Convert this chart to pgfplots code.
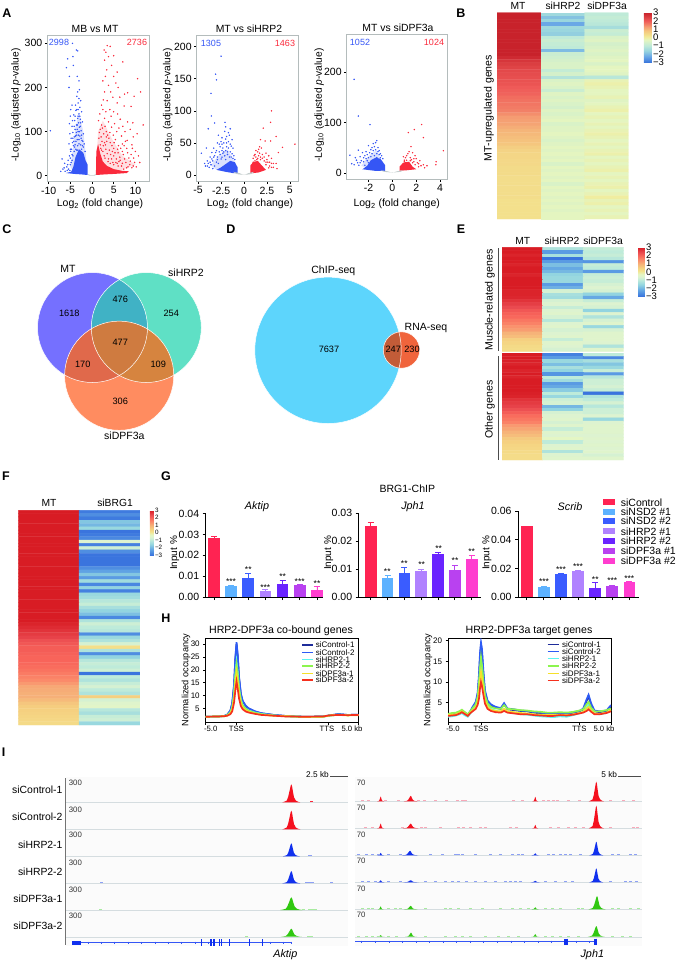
\documentclass[border=0pt]{standalone}
\usepackage{fontspec}
\setmainfont{Liberation Sans}
\usepackage{pgfplots}
\usepackage{pgfplotstable}
\pgfplotsset{compat=1.18}
\usetikzlibrary{calc}
\definecolor{vb}{HTML}{3556F5}\definecolor{vr}{HTML}{FA2A3C}\definecolor{vg}{HTML}{C3CCCC}
\definecolor{vbox}{HTML}{B4BCBC}
\definecolor{g1}{HTML}{FF2352}\definecolor{g2}{HTML}{5DB2FF}\definecolor{g3}{HTML}{3A5CFF}\definecolor{g4}{HTML}{B082FF}\definecolor{g5}{HTML}{6A24FF}\definecolor{g6}{HTML}{B941F0}\definecolor{g7}{HTML}{FF3DCF}
\definecolor{h1}{HTML}{1E2C9A}\definecolor{h2}{HTML}{2D5BF5}\definecolor{h3}{HTML}{5CF5F0}\definecolor{h4}{HTML}{8CF54E}\definecolor{h5}{HTML}{F5E02A}\definecolor{h6}{HTML}{F5301E}
\definecolor{tr}{HTML}{F5101E}\definecolor{tb}{HTML}{1030EE}\definecolor{tg}{HTML}{30C810}
\definecolor{lr}{HTML}{F8A8B8}\definecolor{lb}{HTML}{8DA0F5}\definecolor{lg}{HTML}{A8EBA0}
\definecolor{sep}{HTML}{D5DDE0}
\tikzset{f/.style={font=\fontsize{#1}{#1}\selectfont}}
\newcommand\T[4][]{\node[inner sep=0pt,#1] at (#2pt,-#3pt) {#4};}
\pgfplotsset{
 colormap={hmB}{rgb255(0)=(60,120,220) rgb255(7)=(106,168,230) rgb255(14)=(154,214,222) rgb255(20)=(191,234,216) rgb255(27)=(228,245,192) rgb255(30)=(240,237,160) rgb255(33)=(243,224,140) rgb255(38)=(245,198,126) rgb255(43)=(245,156,114) rgb255(50)=(239,90,88) rgb255(60)=(200,34,43)},
 colormap={hmE}{rgb255(0)=(58,116,222) rgb255(7)=(95,162,228) rgb255(14)=(146,212,224) rgb255(20)=(190,235,218) rgb255(24)=(221,243,208) rgb255(27)=(228,246,196) rgb255(31)=(244,228,142) rgb255(35)=(245,208,128) rgb255(40)=(246,176,120) rgb255(45)=(251,138,106) rgb255(50)=(248,100,90) rgb255(54)=(234,74,80) rgb255(60)=(216,28,36)},
 px/.style n args={4}{at={(#1pt,-#2pt)},anchor=north west,width=#3pt,height=#4pt,scale only axis},
 vol/.style={axis line style={draw=vbox,line width=1pt},tick align=outside,xtick pos=bottom,ytick pos=left,major tick length=2.5pt,tick style={black,line width=.5pt},tick label style={f=10.5},xticklabel style={yshift=1pt},yticklabel style={xshift=1pt}},
 heat/.style={hide axis,enlargelimits=false,y dir=reverse,point meta min=-3,point meta max=3},
 cbar/.style n args={3}{colorbar,colorbar style={at={(parent axis.north east)},anchor=north west,xshift=#1pt,width=#2pt,height=#3pt,ytick={-3,-2,-1,0,1,2,3},yticklabels={−3,−2,−1,0,1,2,3},major tick length=0pt,axis line style={draw=none},tick style={draw=none}}},
 bars/.style={axis x line=bottom,axis y line=left,axis line style={-,line width=.9pt},tick style={black,line width=.9pt},tick align=outside,major tick length=3pt,xtick={0,1,2,3,4,5,6},xticklabels={},tick label style={f=10.5},ymin=0,scaled y ticks=false},
 occ/.style={axis line style={line width=.9pt},tick style={black,line width=.6pt},tick align=outside,xtick pos=bottom,ytick pos=left,major tick length=2.5pt,tick label style={f=8},xticklabels={}},
 hm/.style={matrix plot*,mesh/cols=#1,mesh/ordering=x varies,point meta=explicit},
}
\newcommand\hmp[2]{\addplot[hm=#1] table[row sep=\\,header=false,x expr={mod(\coordindex,#1)},y expr={floor((\coordindex+0.5)/#1)},meta index=0]{#2};}
\newcommand\gbar[4]{\addplot[ybar,bar width=11.7pt,bar shift=0pt,fill=#1,draw=none,forget plot,error bars/.cd,y dir=plus,y explicit,error bar style={#1,line width=.9pt},error mark options={rotate=90,mark size=3pt,#1,line width=.9pt}] coordinates {(#2,#3) +- (0,#4)};}
\pgfplotstableread{
x y
-1 0
-.75 .04
-.5 .1
-.35 .3
-.2 .62
-.08 .9
0 1
.08 .9
.18 .6
.3 .28
.5 .1
.75 .03
1 0
}\peakshape
\newcommand\peak[5]{\addplot[fill=#1,draw=none,forget plot] table[x expr={#2+#5*\thisrow{x}},y expr={#3-#4*\thisrow{y}}]{\peakshape};}
\newcommand\blip[3]{\addplot[only marks,mark=-,mark size=1.5pt,color=#1,mark options={line width=1pt},forget plot] table[row sep=\\,header=false,x index=0,y expr={#2}]{#3};}
\pgfplotstableread{
x c1 c2 h1 h2 d1 d2
-5 1.9 1.9 1.9 1.9 1.9 1.9
-3 2 2 2 2 2 2
-2 2.2 2.2 2.1 2.1 2.1 2.1
-1.5 2.7 2.7 2.5 2.5 2.4 2.3
-1 4.2 4.3 3.6 3.5 3.2 2.9
-.7 7 7.2 5.6 5.4 4.8 4
-.4 14 14.4 10.8 10.4 9 7.4
-.2 24 24.5 18 17.5 15 12
0 30 30.7 23 22 19 15.5
.2 25 25.5 19 18.5 15.5 12.5
.4 17 17.5 13 12.8 11 9
.7 10.5 10.8 8.5 8.2 7.2 6
1 7.8 8 6.4 6.2 5.4 4.8
1.5 6 6.1 5 4.9 4.4 3.9
2 5 5.1 4.3 4.2 3.8 3.5
3 3.9 4 3.5 3.4 3.1 3
4 3.2 3.3 3 2.9 2.7 2.6
6 2.6 2.6 2.4 2.4 2.3 2.3
8 2.2 2.2 2.1 2.1 2.1 2
11 1.9 1.9 1.8 1.8 1.9 1.9
14 2 2 1.9 1.9 1.9 2
15 2.4 2.4 2.3 2.3 2.4 2.4
16.5 2.9 2.9 2.7 2.7 2.6 2.6
18 2.6 2.6 2.5 2.5 2.4 2.5
19.8 2.7 2.7 2.6 2.6 2.5 2.6
}\occA
\pgfplotstableread{
x c1 c2 h1 h2 d1 d2
-5 1.9 2.0 1.6 2.3 2.0 1.8
-4.4 2.1 2.2 1.7 2.5 2.1 1.9
-3.8 2.2 2.3 1.9 2.6 2.2 2.0
-3.2 2.6 2.8 2.2 3.0 2.6 2.4
-2.9 3.0 3.1 2.5 3.3 2.9 2.7
-2.5 2.5 2.6 2.0 2.8 2.4 2.3
-2 2.0 2.1 1.6 2.2 1.9 1.8
-1.6 2.9 3.0 2.4 3.0 2.6 2.5
-1.2 4.0 4.2 3.4 3.8 3.2 3.0
-.8 4.8 5.2 4.2 4.6 3.8 3.5
-.5 7 7.5 6 6.5 5 4.5
-.3 11 12 9 10 7.5 6
-.15 16 17 12.5 13.5 10.5 8.5
0 19 19.6 15 16 12.5 10
.15 17 18 13.5 14 11 9
.35 12 13 10 10.5 8 7
.6 7.5 8 6.5 6.8 5.5 4.8
1 5.2 5.5 4.5 4.8 4 3.5
1.5 4.3 4.6 3.6 4 3.3 3
2.2 3.8 4 3 3.6 3 2.7
3 3.5 3.7 2.8 3.5 2.9 2.6
3.5 4.6 4.9 3.4 4.4 3.5 3.0
4 3.4 3.6 2.7 3.5 2.9 2.6
5 3.2 3.4 2.5 3.4 2.7 2.4
6 3 3.1 2.2 3.2 2.5 2.2
7 2.9 3 2.1 3.1 2.4 2.2
8 2.6 2.7 1.9 2.9 2.2 2.0
9 2.4 2.6 1.7 2.8 2.1 1.9
10 2.3 2.4 1.6 2.6 2 1.8
11 2.2 2.4 1.5 2.6 2 1.8
12 2.4 2.5 1.7 2.7 2.1 2
13 2.2 2.4 1.6 2.6 2 1.9
14 2.6 2.7 2 2.8 2.2 2.1
14.9 2.9 3 2.4 3.1 2.5 2.4
15.5 3.4 3.6 2.8 3.4 2.8 2.6
16 5.4 5.8 3.8 4.6 3.6 3
16.3 6.6 6.9 4.4 5.2 4 3.4
16.7 4.4 4.8 3.4 3.8 3.1 2.8
17.2 2.9 3.1 2.3 2.9 2.4 2.2
18 2.7 2.9 2.2 2.9 2.3 2.2
19 3 3.1 2.5 3.2 2.6 2.5
19.7 4.2 4.4 3.2 3.6 3.2 2.9
}\occB
\newcommand\occplots[1]{%
\addplot[h1,line width=1.7pt] table[x=x,y=c1]{#1};
\addplot[h2,line width=1.7pt] table[x=x,y=c2]{#1};
\addplot[h3,line width=1.7pt] table[x=x,y=h1]{#1};
\addplot[h4,line width=1.7pt] table[x=x,y=h2]{#1};
\addplot[h5,line width=1.7pt] table[x=x,y=d1]{#1};
\addplot[h6,line width=1.7pt] table[x=x,y=d2]{#1};}
\begin{document}
\begin{tikzpicture}
\useasboundingbox (0,0) rectangle (677pt,-962pt);
% ---------- A volcanoes
\begin{axis}[vol,px={47.3}{35}{102}{146.7},xmin=-10.3,xmax=13.2,ymin=-13.6,ymax=319,xtick={-10,-5,0,5,10},xticklabels={-10,-5,0,5,10},ytick={0,100,200,300},yticklabels={0,100,200,300}]
\addplot[fill=vb,fill opacity=.18,draw=none] coordinates {(-1.2,25)(-2,100)(-3,140)(-3.8,110)(-4.4,60)(-5,20)(-4.3,10)(-2,10)};
\addplot[fill=vr,fill opacity=.15,draw=none] coordinates {(1,30)(1.4,100)(2.5,125)(4.5,85)(7,45)(10,25)(6,10)(2,10)};
\addplot[fill=vb,draw=none] coordinates {(-1,2)(-1,25)(-1.5,35)(-2,52)(-3,60)(-3.8,42)(-4.3,20)(-4.8,9)(-6,6)(-4,4)(-2.5,3)(-1.5,2)};
\addplot[fill=vr,draw=none] coordinates {(.9,2)(1,55)(1.4,72)(1.9,50)(2.5,32)(3.5,22)(5,15)(7,11)(8.5,10)(8,6)(5,4)(3,3)(1.5,2)};
\addplot[fill=vg,draw=none] coordinates {(-1,4)(-.7,0)(.7,0)(1,4)(.4,1.5)(-.4,1.5)};
\addplot[only marks,mark=*,mark size=.5pt,color=vb,mark options={draw=none}] coordinates {(-9.6,102)(-5.6,265)(-5.9,245)(-4.4,270)(-4.5,300)(-3.6,285)(-3.3,283)(-4.3,250)(-5.2,225)(-5.3,200)(-3.4,225)(-3,215)(-2.9,195)(-3.3,190)(-3.5,180)(-3,175)(-2.6,170)(-3.2,165)(-3.8,160)(-2.8,155)(-4.6,160)(-4.9,150)(-3.7,148)(-2.4,145)(-3,140)(-4.2,138)(-5,135)(-3.3,130)(-2.7,128)(-4,125)(-2.2,122)(-5.2,118)(-3.6,115)(-4.6,112)(-2.9,110)(-3.9,105)(-2.5,102)(-3.2,100)(-4.4,98)(-5.1,95)(-2,95)(-3.5,92)(-2.8,90)(-4.1,88)(-4.8,85)(-3,82)(-2.3,80)(-3.7,78)(-4.5,75)(-5.3,72)(-2.6,70)(-3.3,68)(-4,65)(-2,65)(-4.7,60)(-3.5,58)(-2.8,55)(-6.9,38)(-6.3,28)(-5.5,35)(-5.8,20)(-6.7,15)(-7.2,10)(-5,25)(-5.2,45)(-4.9,55)(-4.4,45)(-4.6,35)(-5.4,15)(-5.1,12)(-3.1,120)(-3.4,105)(-2.7,112)(-2.4,92)(-3.6,98)(-4.2,78)(-2.1,78)(-3.9,70)(-3.1,92)(-2.5,85)(-3.4,82)(-4.3,68)(-1.8,72)(-2.4,60)(-4.6,48)(-1.6,55)(-5,40)(-4.8,30)(-4.1,55)(-3.7,60)(-3,72)(-3.3,58)(-2.2,68)(-2.9,100)(-4.4,85)(-3.8,90)(-3.2,135)(-2.6,120)(-3.5,150)(-3.2,150)(-4.1,112)(-4.5,125)(-3.4,115)(-3.9,135)(-2.8,135)(-5.6,25)(-5.7,12)(-6.2,10)(-6.4,18)(-5,60)};
\addplot[only marks,mark=*,mark size=.5pt,color=vr,mark options={draw=none}] coordinates {(3.5,295)(4.2,293)(3.2,280)(2.8,285)(5,272)(3.8,270)(7.1,258)(2.9,262)(4.5,250)(3.4,240)(5.8,235)(10.5,220)(5,225)(3.1,225)(2.5,215)(5.5,210)(3.8,205)(6,200)(2.9,190)(4.3,190)(11.2,190)(8.2,188)(9.7,180)(7.5,185)(6.4,178)(4.8,178)(2.6,172)(3.5,170)(5.8,165)(7.4,158)(9,157)(2.2,160)(4.1,150)(5,145)(2.5,150)(5.9,140)(3.2,145)(1.8,140)(4.4,135)(6.5,128)(2.9,130)(8.2,122)(9.4,120)(11.8,115)(1.5,125)(3.8,122)(5.2,118)(7.1,112)(2.2,115)(4.5,110)(6.2,108)(8.8,105)(1.9,105)(3.3,100)(5.7,100)(7.6,100)(10.4,95)(9.5,88)(2.7,95)(4.9,92)(6.8,90)(3.9,85)(8.1,80)(1.6,85)(5.4,82)(7,72)(2.3,78)(4.2,75)(9.2,70)(6.1,68)(3.1,70)(8,62)(5,62)(1.9,70)(7,55)(4,58)(6,52)(9,48)(10,55)(8.5,40)(2.5,55)(3.5,50)(5,45)(7.5,38)(6.5,35)(9.8,30)(4.5,38)(8.7,25)(5.5,30)(7,28)(6,22)(3,40)(2,62)(9.5,22)(8,18)(7.3,15)(1.4,60)(2.8,45)(3.2,60)(3.8,38)(4.3,48)(4.8,30)(5.3,52)(5.8,28)(6.4,42)(6.8,22)(7.2,48)(7.8,30)(8.3,20)(8.8,33)(9.2,18)(9.6,40)(10.2,20)(2.1,88)(2.6,68)(3.4,78)(4.6,68)(5.9,60)(6.6,62)(7.4,68)(1.7,98)(2.4,108)(3.6,92)(4.1,98)(5.1,75)(3,112)(2.9,75)(3.3,88)(2.2,58)(4.7,55)(5.6,38)(6.2,32)(3.7,32)(4.2,28)(5,25)(8.2,52)(7.7,78)(9.3,62)(10.7,45)(11,30)};
\end{axis}
\begin{axis}[vol,px={196.7}{35}{102.3}{146.7},xmin=-5.16,xmax=6,ymin=-10.4,ymax=218,xtick={-5,-2.5,0,2.5,5},xticklabels={-5,-2.5,0,2.5,5},ytick={0,50,100,150,200},yticklabels={0,50,100,150,200}]
\addplot[fill=vb,fill opacity=.18,draw=none] coordinates {(-1,20)(-1.8,40)(-2.8,30)(-3.6,15)(-3,8)(-1.5,8)};
\addplot[fill=vb,draw=none] coordinates {(-.7,3)(-.7,12)(-1,20)(-1.5,22)(-2,17)(-2.5,12)(-3,8)(-2,5)(-1.2,3)};
\addplot[fill=vr,draw=none] coordinates {(.7,3)(.7,15)(1,20)(1.5,22)(2,14)(2.4,8)(1.6,4)(1,3)};
\addplot[fill=vg,draw=none] coordinates {(-1.2,5)(-.5,3)(0,0)(.5,3)(1.1,5)(.8,1.5)(.3,.5)(-.3,.5)(-.8,1.5)};
\addplot[only marks,mark=*,mark size=.5pt,color=vb,mark options={draw=none}] coordinates {(-2.5,185)(-3.1,157)(-3,148)(-3.6,127)(-3.56,92)(-3.2,81)(-2.07,82)(-3.9,72)(-2,75)(-4.1,42)(-4.65,34)(-2.8,62)(-1.5,72)(-1.6,62)(-2.1,68)(-1.9,60)(-2.4,58)(-1.3,55)(-2.9,50)(-1.7,52)(-2.2,50)(-1.4,45)(-3.3,42)(-2.6,44)(-1.9,44)(-1.2,42)(-3.5,35)(-3.1,35)(-2.4,38)(-1.5,36)(-3.7,28)(-2.9,28)(-2.1,30)(-3.4,22)(-4,22)(-3,20)(-2.5,25)(-1.8,32)(-4.2,14)(-3.6,16)(-3.2,14)(-2.8,18)(-2.3,34)(-1.6,28)(-1.1,30)(-2.7,36)(-2,38)(-3.9,18)(-1.3,33)(-3.8,12)(-3.2,30)(-3.5,25)(-2.6,32)(-3,38)(-2.3,42)(-1.8,36)(-1.4,28)(-1,24)(-2,24)(-3.3,28)(-3.7,20)(-2.9,24)(-2.4,28)(-1.5,48)(-2.7,48)(-4.3,18)(-4,14)(-3.4,10)(-2.2,36)(-1.7,42)(-1.2,26)(-1.7,66)(-2.4,48)(-2,56)(-1.9,50)(-2.5,52)};
\addplot[only marks,mark=*,mark size=.5pt,color=vr,mark options={draw=none}] coordinates {(3,100)(2.9,82)(2.1,73)(3.5,60)(1.8,55)(2.3,53)(2.9,53)(5.56,48)(4.2,43)(3.75,35)(3.5,18)(1.5,36)(1.6,30)(1.9,42)(2.4,34)(1.3,28)(2.7,30)(2,26)(2.2,22)(2.6,20)(3,26)(3.2,18)(2.8,14)(1.7,44)(1.2,32)(1.4,24)(1.8,24)(2.4,16)(3,12)(2.7,11)(1,26)(3.6,10)(1.1,30)(1.3,38)(1.7,34)(1.5,26)(1.2,22)(2,32)(2.2,28)(2.5,24)(2.8,20)(3,18)(1.8,28)(2.4,20)(1.6,40)(1,20)(3.2,12)};
\end{axis}
\begin{axis}[vol,px={346.7}{34.3}{100.6}{145},xmin=-3.82,xmax=4.6,ymin=-13,ymax=275.7,xtick={-2,0,2,4},xticklabels={-2,0,2,4},ytick={0,100,200},yticklabels={0,100,200}]
\addplot[fill=vb,fill opacity=.18,draw=none] coordinates {(-.8,15)(-1.3,45)(-1.9,35)(-2.6,14)(-2,8)};
\addplot[fill=vb,draw=none] coordinates {(-.6,4)(-.6,15)(-1,28)(-1.4,30)(-1.8,25)(-2.1,14)(-2.5,7)(-1.5,4)};
\addplot[fill=vr,draw=none] coordinates {(.6,4)(.6,12)(.9,20)(1.4,22)(1.7,12)(2,7)(1.2,5)};
\addplot[fill=vg,draw=none] coordinates {(-1,5)(-.4,3)(0,0)(.4,3)(.9,5)(.7,2)(.3,1)(-.3,1)(-.7,2)};
\addplot[only marks,mark=*,mark size=.5pt,color=vb,mark options={draw=none}] coordinates {(-3.2,186)(-2.85,113)(-1.87,96)(-1.3,64)(-1.6,58)(-3.55,35)(-2.85,45)(-1.4,60)(-1.5,52)(-2,54)(-1.2,50)(-1.8,46)(-2.2,42)(-1.1,44)(-2.5,40)(-1,38)(-2.7,32)(-3.1,30)(-2.3,34)(-1.7,38)(-2,30)(-1.5,34)(-1.3,38)(-3.4,18)(-2.9,20)(-2.6,24)(-2.4,22)(-2.1,36)(-.9,34)(-3,25)(-2.2,28)(-1.8,32)(-1.2,42)(-1.6,44)(-1,30)(-1.9,40)(-2.4,30)(-2.1,24)(-2.7,20)(-1.4,46)(-.8,28)(-1.7,50)(-2,20)(-3.2,16)(-2.8,15)(-2.3,15)(-1.1,36)(-1.3,30)};
\addplot[only marks,mark=*,mark size=.5pt,color=vr,mark options={draw=none}] coordinates {(2.45,96)(1.84,86)(1.34,80)(2.6,70)(4.27,44)(3.66,22)(1.56,52)(.92,32)(1.7,40)(1.3,38)(1.9,34)(1.1,30)(2,28)(1.5,30)(2.3,24)(1.2,25)(1.8,22)(2.6,16)(2.2,18)(1.6,26)(3.65,16)(2.9,14)(1,25)(1.2,34)(1.5,24)(1.7,20)(1.9,16)(2.1,20)(2.4,14)(1,22)(1.4,42)(2.7,10)(2.2,12)(1.8,28)(1.1,20)};
\end{axis}
% ---------- B heatmap
\begin{axis}[heat,px={497}{12.7}{131.3}{206.3},colormap name=hmB,cbar={7}{8}{49.4},colorbar style={yticklabel style={f=9.5,inner sep=1pt}}]
\hmp{3}{
3\\-1.5\\-1\\ 3\\-1.9\\-.9\\ 3\\-1.6\\-1\\ 3\\-2.3\\-1.1\\ 3\\-1.5\\-1.4\\ 3\\-1.6\\-.8\\ 3\\-1.7\\-.9\\ 3\\-1\\-.5\\
3\\-.8\\-.4\\ 3\\-.9\\-.6\\ 3\\-1\\-.5\\ 3\\-2\\-.4\\ 3\\-.8\\-.5\\ 2.85\\-.7\\-.4\\ 2.65\\-.6\\-.3\\ 2.5\\-.5\\-.5\\
2.4\\-.5\\-.3\\ 2.3\\-.9\\-.3\\ 2.25\\-.6\\-.4\\ 2.2\\-1.2\\-1.1\\ 2.15\\-.5\\-.2\\ 2.1\\-.4\\-.1\\ 2\\-.5\\-.2\\ 1.95\\-.8\\-.3\\
1.9\\-.4\\-.3\\ 1.8\\-.5\\-.2\\ 1.75\\-.4\\-.4\\ 1.7\\-.5\\-.3\\ 1.65\\-.6\\-.2\\ 1.6\\-.4\\-.1\\ 1.45\\-.5\\-.3\\ 1.3\\-.4\\-.2\\
1.25\\-.3\\-.3\\ 1.2\\-.5\\-.2\\ 1.1\\-.4\\-.3\\ 1\\-.4\\-.2\\ .95\\-.3\\-.1\\ .9\\-.4\\-.2\\ .85\\-.5\\-.3\\ .8\\-.4\\-.2\\
.65\\-.3\\-.3\\ .55\\-.4\\-.2\\ .5\\-.3\\-.1\\ .5\\-.4\\-.3\\ .45\\-.3\\-.2\\ .45\\-.5\\-.3\\ .4\\-.3\\-.2\\ .4\\-.4\\-.1\\
.4\\-.3\\-.3\\ .35\\-.4\\-.2\\ .35\\-.3\\-.3\\ .35\\-.5\\-.2\\ .35\\-.3\\-.1\\ .35\\-.4\\-.3\\ .35\\-.3\\-.2\\ .35\\-.4\\0\\
.3\\-.3\\-.2\\ .3\\-.4\\-.1\\ .3\\-.3\\-.3\\ .3\\-.4\\-.2\\ .3\\-.3\\-.3\\ .3\\-.3\\-.2\\
}
\end{axis}
% ---------- E heatmaps
\begin{axis}[heat,px={502}{247.3}{121.7}{104},colormap name=hmE,cbar={6}{6.6}{49},colorbar style={yticklabel style={f=9.5,inner sep=1pt}}]
\hmp{3}{
3\\-1.2\\-.9\\ 3\\-2.4\\-1\\ 2.9\\-1.3\\-.9\\ 3\\-3\\-1.1\\ 3\\-2.4\\-2.5\\ 2.9\\-1.9\\-.9\\ 3\\-2.2\\-1\\ 3\\-2\\-2.4\\
2.9\\-1.6\\-.9\\ 3\\-1.5\\-.8\\ 3\\-1.5\\-.9\\ 3\\-2.4\\-.7\\ 3\\-2.1\\-.6\\ 2.9\\-.7\\-.7\\ 2.9\\-1.3\\-1.6\\ 2.85\\-1.4\\-2.2\\
2.7\\-.7\\-.9\\ 2.55\\-.6\\-.6\\ 2.4\\-.9\\-.7\\ 2.2\\-.6\\-1.6\\ 2.05\\-.5\\-.6\\ 1.95\\-.7\\-1.2\\ 1.75\\-1.1\\-.7\\ 1.6\\-.6\\-.5\\
1.4\\-.5\\-1.5\\ 1.25\\-.7\\-.7\\ .95\\-.6\\-.5\\ .8\\-.5\\-.5\\ .5\\-.9\\-.5\\ .4\\-.5\\-.6\\ .3\\-.6\\-1.2\\ .25\\-.7\\-.5\\
}
\end{axis}
\begin{axis}[heat,px={502}{353}{121.7}{107},colormap name=hmE]
\hmp{3}{
3\\-2.8\\-1\\ 3\\-2.4\\-2.7\\ 2.95\\-1.5\\-1.3\\ 2.9\\-1.9\\-1.8\\ 3\\-1.3\\-1.5\\ 2.9\\-1.6\\-.9\\ 3\\-2.5\\-2.4\\ 2.9\\-1\\-1.1\\
3\\-1.4\\-.8\\ 3\\-2.4\\-.8\\ 3\\-2.2\\-.7\\ 3\\-1.7\\-.9\\ 2.95\\-1\\-3\\ 2.9\\-1.5\\-1.2\\ 2.7\\-.8\\-1\\ 2.6\\-.7\\-.7\\
2.5\\-2\\-1.1\\ 2.3\\-1.6\\-.8\\ 2.1\\-.7\\-.8\\ 1.9\\-.6\\-.6\\ 1.75\\-.5\\-1.5\\ 1.6\\-.7\\-.6\\ 1.3\\-.5\\-.5\\ 1.15\\-.9\\-.5\\
.95\\-.5\\-.5\\ .8\\-.6\\-.6\\ .6\\-.3\\-.5\\ .5\\-1\\-.6\\ .4\\-.6\\-.5\\ .35\\-.5\\-.6\\ .3\\-1.2\\-.5\\ .25\\-.6\\-.7\\ .25\\-.5\\-.5\\
}
\end{axis}
% ---------- F heatmap
\begin{axis}[heat,px={18.3}{510.3}{121.7}{214.7},colormap name=hmE,cbar={1.3}{4}{44.7},colorbar style={yticklabel style={f=6.3,inner sep=1pt}}]
\hmp{2}{
3\\-2.9\\ 3\\-2.6\\ 3\\-2.9\\ 3\\-1.8\\ 3\\-2\\ 3\\-1.5\\ 3\\-3\\ 3\\-2.9\\ 3\\-2.7\\ 3\\-.6\\ 3\\-2.8\\
3\\-.8\\ 3\\-2.6\\ 3\\-3\\ 3\\-3\\ 3\\-3\\ 3\\-3\\ 3\\-2.6\\ 3\\-2.3\\ 3\\-1.8\\ 3\\-2.4\\ 3\\-1.4\\
3\\-2.7\\ 3\\-1.6\\ 3\\-2.8\\ 3\\-1.5\\ 3\\-1.4\\ 3\\-1.1\\ 3\\-.9\\ 3\\-1.3\\ 3\\-1.6\\ 3\\-1.9\\ 3\\-2.7\\
3\\-1.2\\ 2.9\\-.8\\ 2.8\\-1\\ 2.7\\-1.1\\ 2.6\\-2.6\\ 2.5\\-1.5\\ 2.3\\-1.2\\ 2.2\\-.7\\ 2.1\\.2\\ 2.1\\-1.2\\
2.05\\-2.6\\ 2\\-1.6\\ 2\\-1.1\\ 1.95\\-.9\\ 1.9\\-1\\ 1.8\\-.8\\ 1.7\\-3\\ 1.6\\-1\\ 1.5\\-1.2\\ 1.3\\-.9\\
1.1\\-.7\\ 1.05\\-1\\ 1\\-1.2\\ 1\\.5\\ .85\\-.7\\ .65\\-.5\\ .55\\-.4\\ .5\\-1.1\\ .45\\-1.3\\ .4\\-.9\\ .35\\-.8\\ .3\\-1.5\\
}
\end{axis}
% ---------- G bars
\begin{axis}[bars,px={205.7}{513.7}{117.6}{83.3},xmin=-.484,xmax=6.37,ymax=.04,ytick={0,.01,.02,.03,.04},yticklabels={0.00,0.01,0.02,0.03,0.04}]
\gbar{g1}{0}{.0285}{.0005}\gbar{g2}{1}{.0052}{.0003}\gbar{g3}{2}{.0092}{.002}\gbar{g4}{3}{.0027}{.0008}\gbar{g5}{4}{.0063}{.0018}\gbar{g6}{5}{.0058}{.0003}\gbar{g7}{6}{.0033}{.002}
\end{axis}
\begin{axis}[bars,px={358.7}{513.3}{122}{83.7},xmin=-.712,xmax=6.53,ymax=.03,ytick={0,.01,.02,.03},yticklabels={0.00,0.01,0.02,0.03}]
\gbar{g1}{0}{.0254}{.0012}\gbar{g2}{1}{.0069}{.0008}\gbar{g3}{2}{.0085}{.002}\gbar{g4}{3}{.0092}{.0006}\gbar{g5}{4}{.0154}{.0006}\gbar{g6}{5}{.0096}{.0016}\gbar{g7}{6}{.0135}{.0014}
\end{axis}
\begin{axis}[bars,px={518}{511.3}{121.3}{85.7},xmin=-.51,xmax=6.58,ymax=.06,ytick={0,.02,.04,.06},yticklabels={0.00,0.02,0.04,0.06}]
\gbar{g1}{0}{.0494}{.0002}\gbar{g2}{1}{.0073}{.0002}\gbar{g3}{2}{.0158}{.0004}\gbar{g4}{3}{.018}{.0005}\gbar{g5}{4}{.0066}{.0037}\gbar{g6}{5}{.0077}{.0007}\gbar{g7}{6}{.0107}{.0002}
\end{axis}
% ---------- H occupancy
\begin{axis}[occ,px={205.7}{638.7}{153}{83.6},xmin=-5,xmax=19.8,ymin=-.25,ymax=32,xtick={-5,0,14.8,19.8},ytick={5,10,15,20,25,30},yticklabels={5,10,15,20,25,30}]
\occplots{\occA}
\end{axis}
\begin{axis}[occ,px={448}{638.7}{163}{83.6},xmin=-5,xmax=19.7,ymin=.25,ymax=20.5,xtick={-5,0,14.9,19.7},ytick={5,10,15,20},yticklabels={5,10,15,20}]
\occplots{\occB}
\end{axis}
% ---------- overlay axis in picture pixels: Venn, tracks, H legends
\begin{axis}[px={0}{0}{677}{962},xmin=0,xmax=677,ymin=0,ymax=962,y dir=reverse,hide axis,clip=false]
\pgfplotsextra{
\def\cA{(axis cs:92.5,327.5) circle[radius=55]}
\def\cB{(axis cs:146.3,327.5) circle[radius=55]}
\def\cC{(axis cs:119.2,375.7) circle[radius=54.6]}
\fill[color={rgb,255:red,117;green,112;blue,255}] \cA;
\fill[color={rgb,255:red,95;green,224;blue,197}] \cB;
\fill[color={rgb,255:red,255;green,140;blue,96}] \cC;
\begin{scope}\clip \cA; \fill[color={rgb,255:red,64;green,178;blue,197}] \cB;\end{scope}
\begin{scope}\clip \cA; \fill[color={rgb,255:red,224;green,105;blue,75}] \cC;\end{scope}
\begin{scope}\clip \cB; \fill[color={rgb,255:red,214;green,132;blue,63}] \cC;\end{scope}
\begin{scope}\clip \cA; \clip \cB; \fill[color={rgb,255:red,207;green,123;blue,64}] \cC;\end{scope}
\draw[white,line width=.5pt] \cA; \draw[white,line width=.5pt] \cB; \draw[white,line width=.5pt] \cC;
\def\cD{(axis cs:328,350.3) circle[radius=73.2]}
\def\cE{(axis cs:401.5,350) circle[radius=18.2]}
\fill[color={rgb,255:red,93;green,213;blue,252}] \cD;
\fill[color={rgb,255:red,240;green,100;blue,60}] \cE;
\begin{scope}\clip \cD; \fill[color={rgb,255:red,194;green,92;blue,56}] \cE;\end{scope}
\draw[white,line width=.5pt] \cD; \draw[white,line width=.5pt] \cE;
}
% track backgrounds
\addplot[fill=black!1.5,draw=none,forget plot] coordinates {(66,777)(348,777)(348,946)(66,946)};
\addplot[fill=black!1.5,draw=none,forget plot] coordinates {(355,777)(642,777)(642,946)(355,946)};
% separators
\addplot[sep,line width=.7pt,forget plot] coordinates {(66,802.6)(348,802.6)};
\addplot[sep,line width=.7pt,forget plot] coordinates {(66,829.6)(348,829.6)};
\addplot[sep,line width=.7pt,forget plot] coordinates {(66,856.6)(348,856.6)};
\addplot[sep,line width=.7pt,forget plot] coordinates {(66,883.6)(348,883.6)};
\addplot[sep,line width=.7pt,forget plot] coordinates {(66,910.3)(348,910.3)};
\addplot[sep,line width=.7pt,forget plot] coordinates {(66,937)(348,937)};
\addplot[sep,line width=.7pt,forget plot] coordinates {(355,801.6)(642,801.6)};
\addplot[sep,line width=.7pt,forget plot] coordinates {(355,828.6)(642,828.6)};
\addplot[sep,line width=.7pt,forget plot] coordinates {(355,855.6)(642,855.6)};
\addplot[sep,line width=.7pt,forget plot] coordinates {(355,882.6)(642,882.6)};
\addplot[sep,line width=.7pt,forget plot] coordinates {(355,909.6)(642,909.6)};
\addplot[sep,line width=.7pt,forget plot] coordinates {(355,937)(642,937)};
\addplot[color=black!55,line width=1.2pt,forget plot] coordinates {(65.7,778)(65.7,945)};
% left tracks
\peak{tr}{291.3}{802.3}{18}{9}\peak{tr}{291.3}{829.3}{18.7}{9}
\peak{tb}{291.3}{856.3}{13}{8.5}\peak{tb}{291.3}{883.3}{12.3}{9}
\peak{tg}{291.3}{910}{12.7}{11}\peak{tg}{291.3}{936.7}{8}{10.5}
\blip{vr}{801.8}{311.7\\}
\blip{lb}{855.8}{309.3\\310.5\\}
\blip{lb}{882.8}{101\\306\\309\\312\\331.5\\}
\blip{lg}{909.5}{100.7\\303\\309\\312\\315\\}
\blip{lg}{936.2}{246.7\\308\\311\\}
% right tracks
\peak{tr}{596.3}{801.3}{19.7}{7.5}\peak{tr}{596.3}{828.3}{22.7}{7.5}
\peak{tb}{596.3}{855.3}{13.7}{7}\peak{tb}{596.3}{882.3}{14}{7}
\peak{tg}{597}{909.3}{13.3}{8.5}\peak{tg}{596.3}{936.7}{10.7}{8.5}
\peak{tr}{380.7}{801.3}{4.7}{3.5}\peak{tr}{380.7}{828.3}{4.7}{3.5}
\peak{tb}{380.7}{855.3}{2.5}{3.5}\peak{tb}{380.7}{882.3}{2}{4}
\peak{tg}{380.7}{909.3}{3}{3}\peak{tg}{380.7}{936.7}{1.5}{4}
\peak{tr}{410.7}{801.3}{5.5}{7}\peak{tr}{410.7}{828.3}{4.7}{8}
\peak{tb}{410}{855.3}{4.5}{8}\peak{tb}{410.7}{882.3}{2}{8}
\peak{tg}{410.7}{909.3}{3.5}{7}\peak{tg}{411}{936.7}{4}{6}
\peak{tr}{535.3}{801.3}{4.5}{3}\peak{tr}{535.3}{828.3}{3.5}{3}
\peak{tb}{535.3}{855.3}{2}{4}\peak{tb}{535.3}{882.3}{1.5}{5}
\peak{tg}{535.3}{909.3}{2}{4}\peak{tg}{535.3}{936.7}{2.5}{4}
\blip{lr}{800.8}{362\\368\\385\\398\\418\\424\\435\\446\\457\\462\\465\\513\\522\\543\\548\\553\\557\\568\\579\\610\\623\\633\\}
\blip{lr}{827.8}{365\\372\\402\\421\\425\\440\\458\\463\\470\\480\\485\\510\\516\\550\\558\\568\\575\\583\\610\\633\\637\\}
\blip{lb}{854.8}{358\\366\\372\\378\\388\\400\\430\\442\\455\\458\\462\\475\\490\\500\\512\\518\\522\\548\\553\\560\\565\\570\\580\\612\\618\\630\\635\\}
\blip{lb}{881.8}{362\\368\\375\\388\\400\\425\\435\\445\\452\\458\\466\\475\\485\\495\\505\\510\\515\\520\\545\\555\\565\\572\\610\\625\\630\\636\\}
\blip{lg}{908.8}{362\\368\\372\\388\\395\\400\\425\\445\\450\\458\\470\\482\\500\\512\\520\\528\\545\\552\\560\\578\\582\\612\\618\\630\\638\\}
\blip{lg}{936.2}{358\\366\\372\\378\\388\\396\\425\\445\\455\\462\\470\\485\\498\\508\\518\\545\\552\\560\\568\\578\\612\\622\\630\\}
% gene models
\addplot[color=vb,line width=.7pt,forget plot] coordinates {(72,942.7)(291.7,942.7)};
\addplot[color=tb,line width=4pt,forget plot] coordinates {(72,942.7)(81,942.7)};
\addplot[only marks,mark=|,mark size=1.2pt,color=vb,mark options={line width=.6pt},forget plot] coordinates {(88,942.7)(101,942.7)(114.5,942.7)(128,942.7)(141.5,942.7)(155,942.7)(168,942.7)(181.5,942.7)(195,942.7)(208,942.7)(221,942.7)(270,942.7)(283,942.7)(291.3,942.7)};
\addplot[only marks,mark=|,mark size=3.6pt,color=tb,mark options={line width=.9pt},forget plot] coordinates {(201,942.7)(210,942.7)(211.5,942.7)(213,942.7)(214.5,942.7)(219,942.7)(221.3,942.7)(229,942.7)(249,942.7)(262,942.7)};
\addplot[color=vb,line width=.7pt,forget plot] coordinates {(355,941.7)(596.7,941.7)};
\addplot[color=tb,line width=3.5pt,forget plot] coordinates {(566,938.5)(566,945)};
\addplot[color=tb,line width=3pt,forget plot] coordinates {(595.3,938.5)(595.3,945)};
\addplot[only marks,mark=|,mark size=1.2pt,color=vb,mark options={line width=.6pt},forget plot] coordinates {(361,941.7)(375,941.7)(389,941.7)(402,941.7)(416,941.7)(429,941.7)(443,941.7)(456,941.7)(470,941.7)(483,941.7)(497,941.7)(511,941.7)(524,941.7)(538,941.7)(551,941.7)(576,941.7)(589,941.7)};
% scale bars
\addplot[color=black!70,line width=.7pt,forget plot] coordinates {(330,776)(348,776)};
\addplot[color=black!70,line width=.7pt,forget plot] coordinates {(618.3,776)(641,776)};
% E side bars
\addplot[color=black!70,line width=1pt,forget plot] coordinates {(498.7,248)(498.7,351)};
\addplot[color=black!70,line width=1pt,forget plot] coordinates {(498.7,356)(498.7,460)};
% H legend samples
\addplot[h1,line width=1.5pt,forget plot] coordinates {(302.3,645)(313.3,645)};
\addplot[h2,line width=1.5pt,forget plot] coordinates {(302.3,652.3)(313.3,652.3)};
\addplot[h3,line width=1.5pt,forget plot] coordinates {(302.3,659.3)(313.3,659.3)};
\addplot[h4,line width=1.5pt,forget plot] coordinates {(302.3,666)(313.3,666)};
\addplot[h5,line width=1.5pt,forget plot] coordinates {(302.3,673.3)(313.3,673.3)};
\addplot[h6,line width=1.5pt,forget plot] coordinates {(302.3,680)(313.3,680)};
\addplot[h1,line width=1.5pt,forget plot] coordinates {(547.7,644.3)(559.3,644.3)};
\addplot[h2,line width=1.5pt,forget plot] coordinates {(547.7,651.7)(559.3,651.7)};
\addplot[h3,line width=1.5pt,forget plot] coordinates {(547.7,658.3)(559.3,658.3)};
\addplot[h4,line width=1.5pt,forget plot] coordinates {(547.7,666)(559.3,666)};
\addplot[h5,line width=1.5pt,forget plot] coordinates {(547.7,673.3)(559.3,673.3)};
\addplot[h6,line width=1.5pt,forget plot] coordinates {(547.7,680.3)(559.3,680.3)};
% G legend squares
\addplot[fill=g1,draw=none,forget plot] coordinates {(603.3,499.3)(615,499.3)(615,505.3)(603.3,505.3)};
\addplot[fill=g2,draw=none,forget plot] coordinates {(603.3,508.7)(615,508.7)(615,514.7)(603.3,514.7)};
\addplot[fill=g3,draw=none,forget plot] coordinates {(603.3,518)(615,518)(615,524)(603.3,524)};
\addplot[fill=g4,draw=none,forget plot] coordinates {(603.3,528.3)(615,528.3)(615,534.3)(603.3,534.3)};
\addplot[fill=g5,draw=none,forget plot] coordinates {(603.3,537.7)(615,537.7)(615,543.7)(603.3,543.7)};
\addplot[fill=g6,draw=none,forget plot] coordinates {(603.3,548)(615,548)(615,554)(603.3,554)};
\addplot[fill=g7,draw=none,forget plot] coordinates {(603.3,557.7)(615,557.7)(615,563.7)(603.3,563.7)};
\end{axis}
% ---------- text
\foreach \l/\x/\y in {A/7/13,B/461/13,C/7/229,D/231/229,E/461/229,F/6/476,G/166/476,H/166/618,I/3.5/752}{\T[font=\fontsize{12.5}{12.5}\selectfont\bfseries]{\x}{\y}{\l}}
% A
\T[f=10.4]{95}{29}{MB vs MT}\T[f=10.4]{249}{29}{MT vs siHRP2}\T[f=10.4]{398}{28}{MT vs siDPF3a}
\T[f=9,text=vb]{59}{42.5}{2998}\T[f=9,text=vr]{137}{42.5}{2736}
\T[f=9,text=vb]{211}{43}{1305}\T[f=9,text=vr]{285}{43}{1463}
\T[f=9,text=vb]{360}{42}{1052}\T[f=9,text=vr]{434}{42}{1024}
\T[f=10.5]{100}{204}{Log\textsubscript{2} (fold change)}\T[f=10.5]{250}{204}{Log\textsubscript{2} (fold change)}\T[f=10.5]{396.7}{204}{Log\textsubscript{2} (fold change)}
\T[f=10.2,rotate=90]{16}{105}{-Log\textsubscript{10} (adjusted \textit{p}-value)}
\T[f=10.2,rotate=90]{167.7}{105}{-Log\textsubscript{10} (adjusted \textit{p}-value)}
\T[f=10.2,rotate=90]{319.3}{105}{-Log\textsubscript{10} (adjusted \textit{p}-value)}
% B
\T[f=10.3]{518}{5.7}{MT}\T[f=10.3]{563}{5.7}{siHRP2}\T[f=10.3]{607}{5.7}{siDPF3a}
\T[f=10.6,rotate=90]{489}{108}{MT-upregulated genes}
% C
\T[f=9.2]{69.3}{313.3}{1618}\T[f=9.2]{120.3}{299.3}{476}\T[f=9.2]{171.3}{313}{254}\T[f=9.2]{120.3}{342.7}{477}\T[f=9.2]{82.7}{364.7}{170}\T[f=9.2]{158.3}{364.7}{109}\T[f=9.2]{120.3}{401.7}{306}
\T[f=10.5]{68}{269}{MT}\T[f=10.5]{186}{272.3}{siHRP2}\T[f=10.5]{124.3}{435.7}{siDPF3a}
% D
\T[f=9.2]{329}{349.7}{7637}\T[f=9.2]{393.3}{349.7}{247}\T[f=9.2]{412}{349.7}{230}
\T[f=10.5]{333.3}{270.7}{ChIP-seq}\T[f=10.5]{426}{328.3}{RNA-seq}
% E
\T[f=10.3]{522.7}{240.7}{MT}\T[f=10.3]{562}{240.7}{siHRP2}\T[f=10.3]{603}{240.7}{siDPF3a}
\T[f=10.6,rotate=90]{490}{300}{Muscle-related genes}\T[f=10.6,rotate=90]{490}{409.7}{Other genes}
% F
\T[f=10.3]{49}{503.3}{MT}\T[f=10.3]{115}{503.3}{siBRG1}
% G
\T[f=10.5]{407.3}{489}{BRG1-ChIP}
\T[font=\fontsize{10.8}{10.8}\selectfont\itshape]{257}{506.3}{Aktip}\T[font=\fontsize{10.8}{10.8}\selectfont\itshape]{413}{506.3}{Jph1}\T[font=\fontsize{10.8}{10.8}\selectfont\itshape]{570}{506.3}{Scrib}
\T[f=10,rotate=90]{174.7}{553}{Input \%}\T[f=10,rotate=90]{328.7}{553}{Input \%}\T[f=10,rotate=90]{487}{553}{Input \%}
\foreach \x/\y/\s in {231/584/***,248.3/572/**,265.3/590/***,282.7/579.7/**,299.7/584/***,317/586/**,387.3/574.3/**,404.3/566.7/**,421.7/567.7/**,438.7/551/**,455/563.7/**,471.7/554/**,544/584.3/***,561/572.3/***,578/569.7/***,595.3/582/**,612.3/583/***,629.3/581/***}{\T[f=8.5,anchor=base]{\x}{\y}{\s}}
\foreach \y/\s in {502.3/siControl,511.7/siNSD2 \#1,521/siNSD2 \#2,531.3/siHRP2 \#1,540.7/siHRP2 \#2,551/siDPF3a \#1,560.7/siDPF3a \#2}{\T[f=10.5,anchor=west]{620.7}{\y}{\s}}
% H
\T[f=10.6]{281}{631}{HRP2-DPF3a co-bound genes}\T[f=10.6]{529}{631}{HRP2-DPF3a target genes}
\T[f=9.2,rotate=90]{186}{680}{Normalized occupancy}\T[f=9.2,rotate=90]{428}{680}{Normalized occupancy}
\T[f=7.7]{210.7}{729}{-5.0}\T[f=7.7]{236.3}{729}{TSS}\T[f=7.7]{327}{729}{TTS}\T[f=7.7]{352}{729}{5.0 kb}
\T[f=7.7]{453}{729}{-5.0}\T[f=7.7]{481}{729}{TSS}\T[f=7.7]{579.3}{729}{TTS}\T[f=7.7]{604}{729}{5.0 kb}
\foreach \y/\s in {645/siControl-1,652.3/siControl-2,659.3/siHRP2-1,666/siHRP2-2,673.3/siDPF3a-1,680/siDPF3a-2}{\T[f=8,anchor=west]{315.7}{\y}{\s}}
\foreach \y/\s in {644.3/siControl-1,651.7/siControl-2,658.3/siHRP2-1,666/siHRP2-2,673.3/siDPF3a-1,680.3/siDPF3a-2}{\T[f=8,anchor=west]{562}{\y}{\s}}
% I
\foreach \y/\s in {790/siControl-1,817/siControl-2,844.3/siHRP2-1,871.3/siHRP2-2,898.3/siDPF3a-1,925.3/siDPF3a-2}{\T[f=10.4,anchor=east]{62.7}{\y}{\s}}
\foreach \y in {783.3,809.7,835,862.7,890.3,915.7}{\T[f=7.8,anchor=west,text=black!80]{68.7}{\y}{300}}
\foreach \y in {783,808,834.7,861.3,889,915.3}{\T[f=7.8,anchor=west,text=black!80]{356.7}{\y}{70}}
\T[f=8.3,anchor=east]{329}{775}{2.5 kb}\T[f=8.3,anchor=east]{617.3}{775}{5 kb}
\T[font=\fontsize{10.8}{10.8}\selectfont\itshape]{285.3}{955}{Aktip}\T[font=\fontsize{10.8}{10.8}\selectfont\itshape]{592.3}{955}{Jph1}
\end{tikzpicture}
\end{document}
